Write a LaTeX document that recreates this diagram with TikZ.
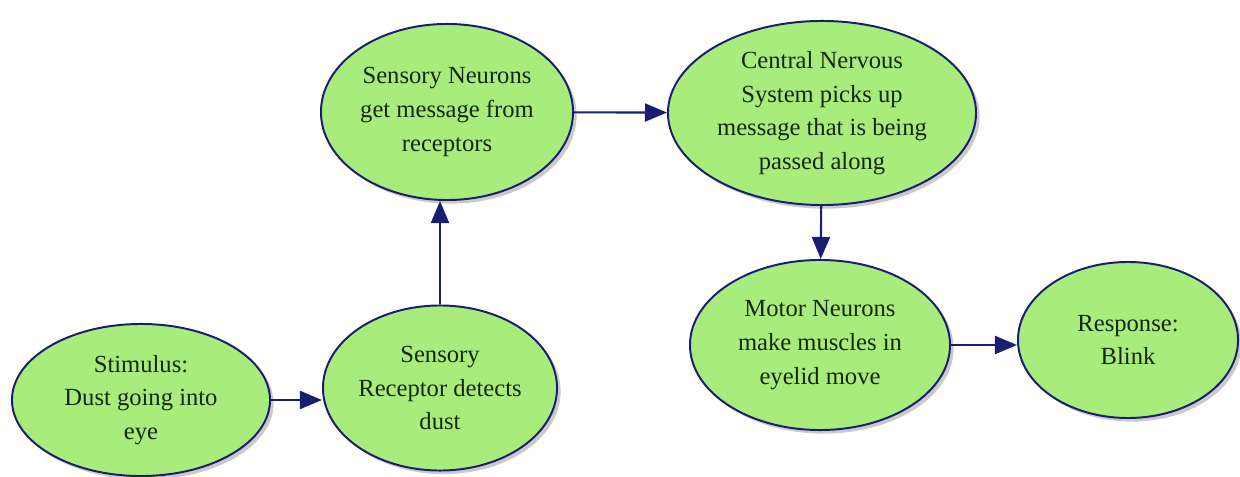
\documentclass[tikz,border=0pt]{standalone}
\usepackage{fontspec}
\setmainfont{Liberation Serif}
\usepackage{xcolor}
\usetikzlibrary{
    arrows.meta,
    shapes.geometric,
    shadows
}
\definecolor{blobgreen}{RGB}{168,236,124}
\definecolor{blobnavy}{RGB}{26,30,112}
\definecolor{blobtext}{RGB}{18,40,14}

\begin{document}
\begin{tikzpicture}[x=0.025cm, y=-0.025cm,
    blob/.style={ellipse, draw=blobnavy, line width=1.4pt, fill=blobgreen,
        inner sep=0pt, align=center, text=blobtext,
        font=\fontsize{17.5}{24}\selectfont,
        drop shadow={shadow xshift=0.09cm, shadow yshift=-0.09cm, opacity=0.35, fill=black!60}},
    link/.style={draw=blobnavy, line width=1.5pt, -{Triangle[length=0.55cm, width=0.45cm]}}]
    \useasboundingbox (0, 0) rectangle (1240, 477);

    \node[blob, minimum width=6.45cm, minimum height=3.8cm] (stim) at (141, 400)
        {Stimulus:\\Dust going into\\eye};
    \node[blob, minimum width=5.85cm, minimum height=4.125cm] (recep) at (440, 388)
        {Sensory\\Receptor detects\\dust};
    \node[blob, minimum width=6.3cm, minimum height=4.4cm] (sneur) at (447, 112)
        {Sensory Neurons\\get message from\\receptors};
    \node[blob, minimum width=7.7cm, minimum height=4.6cm] (cns) at (822, 113)
        {Central Nervous\\System picks up\\message that is being\\passed along};
    \node[blob, minimum width=6.5cm, minimum height=4.25cm] (motor) at (820, 345)
        {Motor Neurons\\make muscles in\\eyelid move};
    \node[blob, minimum width=5.5cm, minimum height=3.9cm] (resp) at (1128, 340)
        {Response:\\Blink};

    \draw[link] (stim) -- (stim -| recep.west);
    \draw[link] (recep) -- (recep |- sneur.south);
    \draw[link] (sneur) -- (cns);
    \draw[link] (cns) -- (motor);
    \draw[link] (motor) -- (motor -| resp.west);
\end{tikzpicture}
\end{document}
